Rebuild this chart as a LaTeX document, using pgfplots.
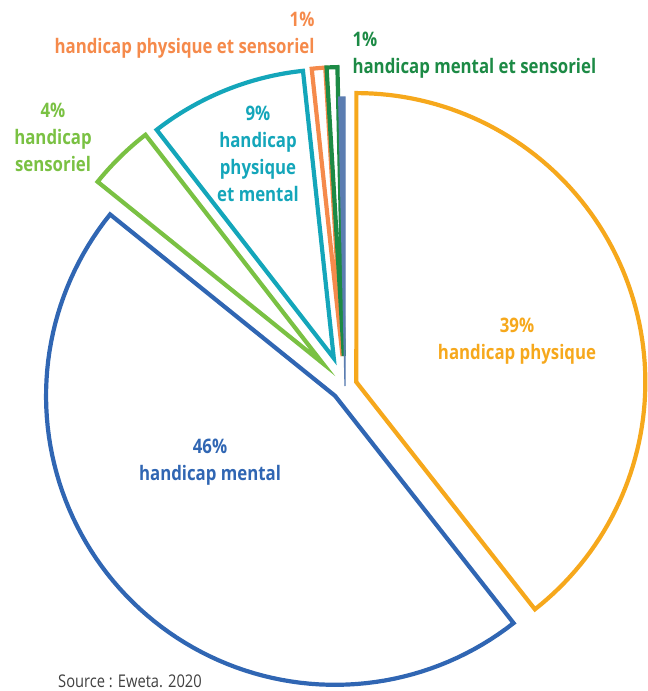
\documentclass[border=0pt]{standalone}
\usepackage{pgfplots}
\pgfplotsset{compat=1.18}
\usepackage{fontspec}
\setmainfont{Open Sans}[FakeStretch=0.84]
\definecolor{cOrange}{HTML}{F6A81C}
\definecolor{cBlue}{HTML}{3066B3}
\definecolor{cGreen}{HTML}{7AC143}
\definecolor{cTeal}{HTML}{14A6BA}
\definecolor{cCoral}{HTML}{F58A4B}
\definecolor{cDark}{HTML}{1C8A45}
\definecolor{cSliver}{HTML}{5B7DB1}
\definecolor{cSource}{HTML}{404040}
% pie centre and radius (axis units = px)
\def\Cx{345}\def\Cy{305}\def\R{289}
% #1 cumulative share before slice, #2 share (%), #3 explode, #4 colour, #5 line width, #6 fill
\newcommand\pieslice[6]{%
  \pgfmathsetmacro\sA{90-3.6*#1}%
  \pgfmathsetmacro\eA{90-3.6*(#1+#2)}%
  \pgfmathsetmacro\mA{(\sA+\eA)/2}%
  \pgfmathsetmacro\ox{\Cx+#3*cos(\mA)}%
  \pgfmathsetmacro\oy{\Cy+#3*sin(\mA)}%
  \edef\doslice{\noexpand\addplot[draw=#4, line width=#5, fill=#6, line join=miter, domain=\eA:\sA, samples=90] ({\ox+\R*cos(x)},{\oy+\R*sin(x)}) -- (axis cs:\ox,\oy) -- cycle;}%
  \doslice
}
\begin{document}
\begin{tikzpicture}
\begin{axis}[
  width=648pt, height=691pt, scale only axis,
  xmin=0, xmax=648, ymin=0, ymax=691,
  hide axis, clip=false]
\path (axis cs:0,0) rectangle (axis cs:648,691);
% shares in %, clockwise from 12 o'clock
\pieslice{0}{39.4}{12}{cOrange}{4.2pt}{none}
\pieslice{39.4}{46.4}{14}{cBlue}{4.2pt}{none}
\pieslice{85.8}{3.7}{32}{cGreen}{4.2pt}{none}
\pieslice{89.5}{8.8}{30}{cTeal}{4.2pt}{none}
\pieslice{98.3}{0.75}{30}{cCoral}{4.2pt}{none}
\pieslice{99.05}{0.6}{30}{cDark}{4.2pt}{none}
\pieslice{99.65}{0.35}{0}{cSliver}{1.2pt}{cSliver}
\begin{scope}[every node/.style={font=\fontsize{20}{27}\selectfont\bfseries}]
\node[text=cOrange, align=center] at (axis cs:517,349.5) {39\%\\handicap physique};
\node[text=cBlue, align=center] at (axis cs:210,229) {46\%\\handicap mental};
\node[text=cGreen, align=center] at (axis cs:53,554) {4\%\\handicap\\sensoriel};
\node[text=cTeal, align=center] at (axis cs:258,537) {9\%\\handicap\\physique\\et mental};
\node[text=cCoral, align=right, anchor=east] at (axis cs:318,656) {1\%\\handicap physique et sensoriel};
\node[text=cDark, align=left, anchor=west] at (axis cs:349,636) {1\%\\handicap mental et sensoriel};
\end{scope}
\node[text=cSource, anchor=west, font=\fontsize{17.5}{20}\selectfont, inner sep=0pt] at (axis cs:58,10) {Source : Eweta. 2020};
\end{axis}
\end{tikzpicture}
\end{document}
